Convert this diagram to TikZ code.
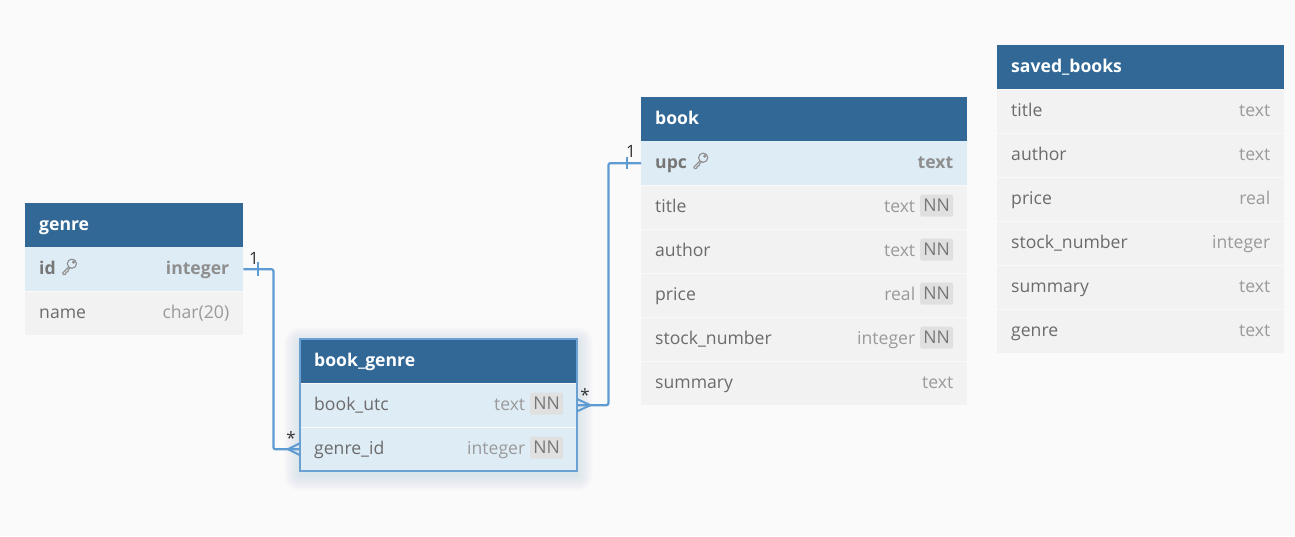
\documentclass[tikz,border=0pt]{standalone}
\usepackage{fontspec}
\setmainfont{Open Sans}
\definecolor{hdr}{HTML}{316896}
\definecolor{keyrowc}{HTML}{DEECF5}
\definecolor{plainrowc}{HTML}{F2F2F2}
\definecolor{bgc}{HTML}{FAFAFA}
\definecolor{colc}{HTML}{6B6B6B}
\definecolor{typec}{HTML}{9A9A9A}
\definecolor{keyname}{HTML}{767676}
\definecolor{keytype}{HTML}{8E8E8E}
\definecolor{badgec}{HTML}{E0E0E0}
\definecolor{badget}{HTML}{777777}
\definecolor{linkc}{HTML}{5E9BD2}
\definecolor{borderc}{HTML}{6AA0D2}
\definecolor{labc}{HTML}{333333}
\newcommand\fs{\fontsize{17.6}{20}\selectfont}
\tikzset{
  hdrbox/.style={fill=hdr, draw=none, minimum height=44, inner sep=0, anchor=north west},
  rowbox/.style={fill=plainrowc, draw=none, minimum height=44, inner sep=0, anchor=north west},
  keybox/.style={fill=keyrowc, draw=none, minimum height=44, inner sep=0, anchor=north west},
  hdrtext/.style={text=white, font=\fs\bfseries, anchor=base west, inner sep=0},
  coltext/.style={text=colc, font=\fs, anchor=base west, inner sep=0},
  typetext/.style={text=typec, font=\fs, anchor=base east, inner sep=0},
  badge/.style={fill=badgec, text=badget, rounded corners=2, minimum width=33, minimum height=22, inner sep=0, font=\fs, anchor=east},
  sepline/.style={draw=white!55!plainrowc, line width=0.8},
  link/.style={draw=linkc, line width=2.2, rounded corners=2},
  crow/.style={draw=linkc, line width=2},
  keyicon/.style={draw=keytype, line width=1.1},
  lab/.style={text=labc, font=\fontsize{17}{19}\selectfont, inner sep=0}
}
% #1 name, #2 x, #3 y, #4 width, #5 title
\newcommand\tablehead[5]{%
  \node[hdrbox, minimum width=#4] (#1) at (#2,#3) {};
  \node[hdrtext] (#1-t) at ([xshift=14,yshift=-5.5]#1.west) {#5};}
% #1 name, #2 x, #3 y, #4 width, #5 col, #6 type, #7 box style
\newcommand\plainrow[7]{%
  \node[#7, minimum width=#4] (#1) at (#2,#3) {};
  \draw[sepline] (#1.north west) -- (#1.north east);
  \node[coltext] (#1-c) at ([xshift=14,yshift=-5.5]#1.west) {#5};
  \node[typetext] (#1-y) at ([xshift=-14,yshift=-5.5]#1.east) {#6};}
\newcommand\nnrow[7]{%
  \node[#7, minimum width=#4] (#1) at (#2,#3) {};
  \draw[sepline] (#1.north west) -- (#1.north east);
  \node[coltext] (#1-c) at ([xshift=14,yshift=-5.5]#1.west) {#5};
  \node[badge] (#1-b) at ([xshift=-14,yshift=1.5]#1.east) {NN};
  \node[typetext] (#1-y) at ([xshift=-52,yshift=-5.5]#1.east) {#6};}
% key row: #1 name, #2 x, #3 y, #4 width, #5 col, #6 type
\newcommand\keyrow[6]{%
  \node[keybox, minimum width=#4] (#1) at (#2,#3) {};
  \node[coltext, text=keyname, font=\fs\bfseries] (#1-c) at ([xshift=14,yshift=-5.5]#1.west) {#5};
  \node[typetext, text=keytype, font=\fs\bfseries] (#1-y) at ([xshift=-14,yshift=-5.5]#1.east) {#6};
  \begin{scope}[shift={(#1-c.base east)}]
    \draw[keyicon] (16,-11) circle[radius=4.6pt];
    \draw[keyicon] (17.6,-12.6) circle[radius=0.9pt];
    \draw[keyicon, line join=round] (12.8,-7.8) -- (6.6,-1.6) -- (7.8,0) -- (9.8,-0.6) -- (10,-2.6) -- (12,-2.8) -- (12.2,-4.8) -- (14.2,-6.4);
  \end{scope}}
\begin{document}
\begin{tikzpicture}[x=1pt,y=-1pt]
\useasboundingbox (0,0) rectangle (1295,536);
\fill[bgc] (0,0) rectangle (1295,536);

% genre
\tablehead{genre}{25}{203}{218}{genre}
\keyrow{genre-id}{25}{247}{218}{id}{integer}
\plainrow{genre-name}{25}{291}{218}{name}{char(20)}{rowbox}

% book
\tablehead{book}{641}{97}{326}{book}
\keyrow{book-upc}{641}{141}{326}{upc}{text}
\nnrow{book-title}{641}{185}{326}{title}{text}{rowbox}
\nnrow{book-author}{641}{229}{326}{author}{text}{rowbox}
\nnrow{book-price}{641}{273}{326}{price}{real}{rowbox}
\nnrow{book-stock}{641}{317}{326}{stock\_number}{integer}{rowbox}
\plainrow{book-summary}{641}{361}{326}{summary}{text}{rowbox}

% saved_books
\tablehead{saved}{997}{45}{287}{saved\_books}
\plainrow{saved-title}{997}{89}{287}{title}{text}{rowbox}
\plainrow{saved-author}{997}{133}{287}{author}{text}{rowbox}
\plainrow{saved-price}{997}{177}{287}{price}{real}{rowbox}
\plainrow{saved-stock}{997}{221}{287}{stock\_number}{integer}{rowbox}
\plainrow{saved-summary}{997}{265}{287}{summary}{text}{rowbox}
\plainrow{saved-genre}{997}{309}{287}{genre}{text}{rowbox}

% book_genre with glow
\foreach \i in {1,...,16}
  \fill[linkc, opacity=0.01, rounded corners=\i] (300-\i,339-\i+4) rectangle (577+\i,471+\i+4);
\tablehead{bg}{300}{339}{277}{book\_genre}
\nnrow{bg-book}{300}{383}{277}{book\_utc}{text}{keybox}
\nnrow{bg-genre}{300}{427}{277}{genre\_id}{integer}{keybox}
\draw[draw=borderc, line width=2] (bg.north west) rectangle (bg-genre.south east);

% connectors
\draw[link] (genre-id.east) -- ++(30,0) |- (bg-genre.west);
\draw[link] (bg-book.east) -- ++(31,0) |- (book-upc.west);
% one ends
\draw[crow] ([xshift=15,yshift=7]genre-id.east) -- ([xshift=15,yshift=-7]genre-id.east);
\draw[crow] ([xshift=-14,yshift=6]book-upc.west) -- ([xshift=-14,yshift=-6]book-upc.west);
% many ends
\draw[crow] ([xshift=-12]bg-genre.west) -- ([yshift=6]bg-genre.west);
\draw[crow] ([xshift=-12]bg-genre.west) -- ([yshift=-6]bg-genre.west);
\draw[crow] ([xshift=13]bg-book.east) -- ([yshift=6]bg-book.east);
\draw[crow] ([xshift=13]bg-book.east) -- ([yshift=-6]bg-book.east);
% labels
\node[lab] (l-genre) at (254,258) {1};
\node[lab] (l-book) at (631,151) {1};
\node[lab] (m-bgg) at (291,438) {*};
\node[lab] (m-bgb) at (585,395) {*};
\end{tikzpicture}
\end{document}
